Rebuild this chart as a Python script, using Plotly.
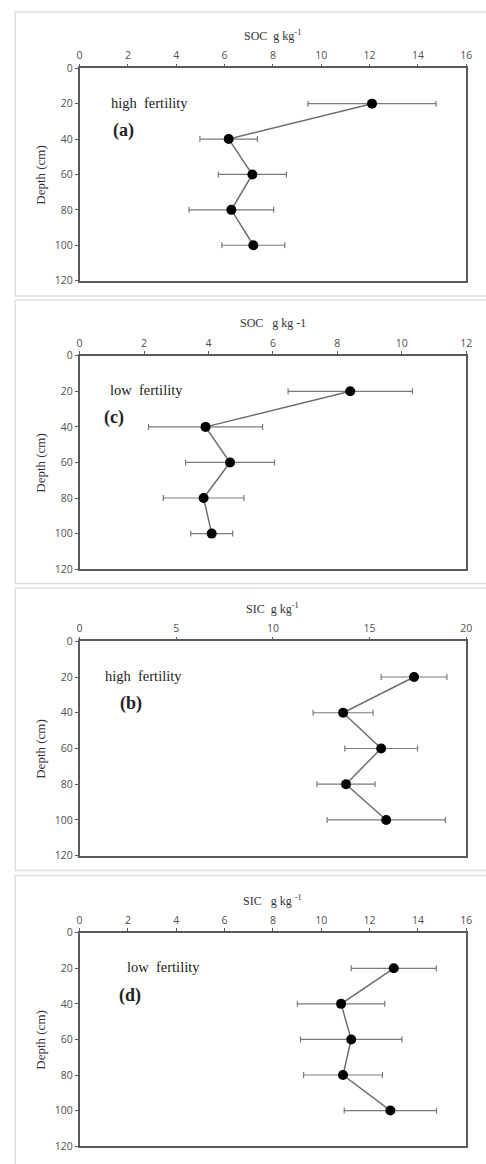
import plotly.graph_objects as go

W, H = 486, 1164

depth = [20, 40, 60, 80, 100]

soc_high = [12.1, 6.17, 7.15, 6.28, 7.19]
soc_high_err = [2.65, 1.19, 1.41, 1.75, 1.30]
soc_low = [8.40, 3.91, 4.67, 3.85, 4.10]
soc_low_err = [1.93, 1.77, 1.38, 1.25, 0.65]
sic_high = [17.30, 13.63, 15.60, 13.78, 15.86]
sic_high_err = [1.70, 1.55, 1.88, 1.50, 3.06]
sic_low = [13.00, 10.82, 11.24, 10.90, 12.86]
sic_low_err = [1.76, 1.81, 2.10, 1.63, 1.91]

titles = ["SOC  g kg<sup>-1</sup>", "SOC   g kg -1", "SIC  g kg<sup>-1</sup>", "SIC   g kg <sup>-1</sup>"]
fert_labels = ["high  fertility", "low  fertility", "high  fertility", "low  fertility"]
panel_labels = ["(a)", "(c)", "(b)", "(d)"]
x_max = [16, 12, 20, 16]
x_dtick = [2, 2, 5, 2]
y_ticks = [0, 20, 40, 60, 80, 100, 120]

series = [(soc_high, soc_high_err), (soc_low, soc_low_err),
          (sic_high, sic_high_err), (sic_low, sic_low_err)]

# pixel layout (top, bottom) of each plot area
plot_px = [(62, 277), (353, 569), (642, 859), (937, 1153)]
frame_px = [(5, 292.5), (296.5, 583.5), (588, 874), (879, 1200)]
label_pos = [((1.22, 19.5), (1.29, 35)), ((0.89, 19.5), (0.69, 35)),
             ((1.2, 19.5), (2.0, 35)), ((1.87, 19.5), (1.53, 35.5))]
x_left, x_right = 78, 472

fig = go.Figure()
ann = []
shapes = []
gray_axis = "#5a5a5a"
tick_font = dict(family="Open Sans, Liberation Sans, sans-serif", size=10.5, color="#505050")
serif = "Liberation Serif, Times New Roman, serif"

for i, ((vals, errs), (top, bot)) in enumerate(zip(series, plot_px)):
    n = "" if i == 0 else str(i + 1)
    fig.add_trace(go.Scatter(
        x=vals, y=depth, mode="lines+markers",
        xaxis="x" + n, yaxis="y" + n,
        line=dict(color="#6e6e6e", width=1.5),
        marker=dict(color="black", size=10),
        error_x=dict(type="data", array=errs, color="#7a7a7a", thickness=1.2, width=3),
        showlegend=False, hoverinfo="x+y"))
    dom_y = [1 - bot / H, 1 - top / H]
    dom_x = [x_left / W, x_right / W]
    xa = dict(domain=dom_x, range=[0, x_max[i]], dtick=x_dtick[i], tick0=0,
              side="top", anchor="y" + n, showgrid=False, zeroline=False,
              showline=True, linecolor=gray_axis, linewidth=1.5, mirror=True,
              ticks="outside", ticklen=3, tickcolor=gray_axis, tickfont=tick_font)
    ya = dict(domain=dom_y, range=[120, 0], tickvals=y_ticks,
              anchor="x" + n, showgrid=False, zeroline=False,
              showline=True, linecolor=gray_axis, linewidth=1.5, mirror=True,
              ticks="outside", ticklen=3, tickcolor=gray_axis, tickfont=tick_font)
    fig.update_layout(**{"xaxis" + n: xa, "yaxis" + n: ya})
    # axis title
    ann.append(dict(text=titles[i], xref="paper", yref="paper",
                    x=(x_left + x_right) / 2 / W, y=1 - (top - 33) / H,
                    showarrow=False, xanchor="center", yanchor="middle",
                    font=dict(family=serif, size=12, color="#333")))
    ann.append(dict(text="Depth (cm)", xref="paper", yref="paper",
                    x=38 / W, y=1 - ((top + bot) / 2) / H, textangle=-90,
                    showarrow=False, xanchor="center", yanchor="middle",
                    font=dict(family=serif, size=13, color="#333")))
    (fx, fy), (px, py) = label_pos[i]
    ann.append(dict(text=fert_labels[i], xref="x" + n, yref="y" + n, x=fx, y=fy,
                    showarrow=False, xanchor="left", yanchor="middle",
                    font=dict(family=serif, size=14.5, color="#222")))
    ann.append(dict(text="<b>" + panel_labels[i] + "</b>", xref="x" + n, yref="y" + n, x=px, y=py,
                    showarrow=False, xanchor="left", yanchor="middle",
                    font=dict(family=serif, size=18, color="#222")))
    ftop, fbot = frame_px[i]
    shapes.append(dict(type="rect", xref="paper", yref="paper",
                       x0=12.5 / W, x1=1.02, y0=1 - fbot / H, y1=1 - ftop / H,
                       line=dict(color="#dedede", width=1.5), layer="below"))

fig.update_layout(width=W, height=H, margin=dict(l=0, r=0, t=0, b=0),
                  paper_bgcolor="white", plot_bgcolor="white",
                  annotations=ann, shapes=shapes)
fig.write_html("out.html", config={"displayModeBar": False},
               post_script="document.body.style.margin='0';document.body.style.overflow='hidden';")
